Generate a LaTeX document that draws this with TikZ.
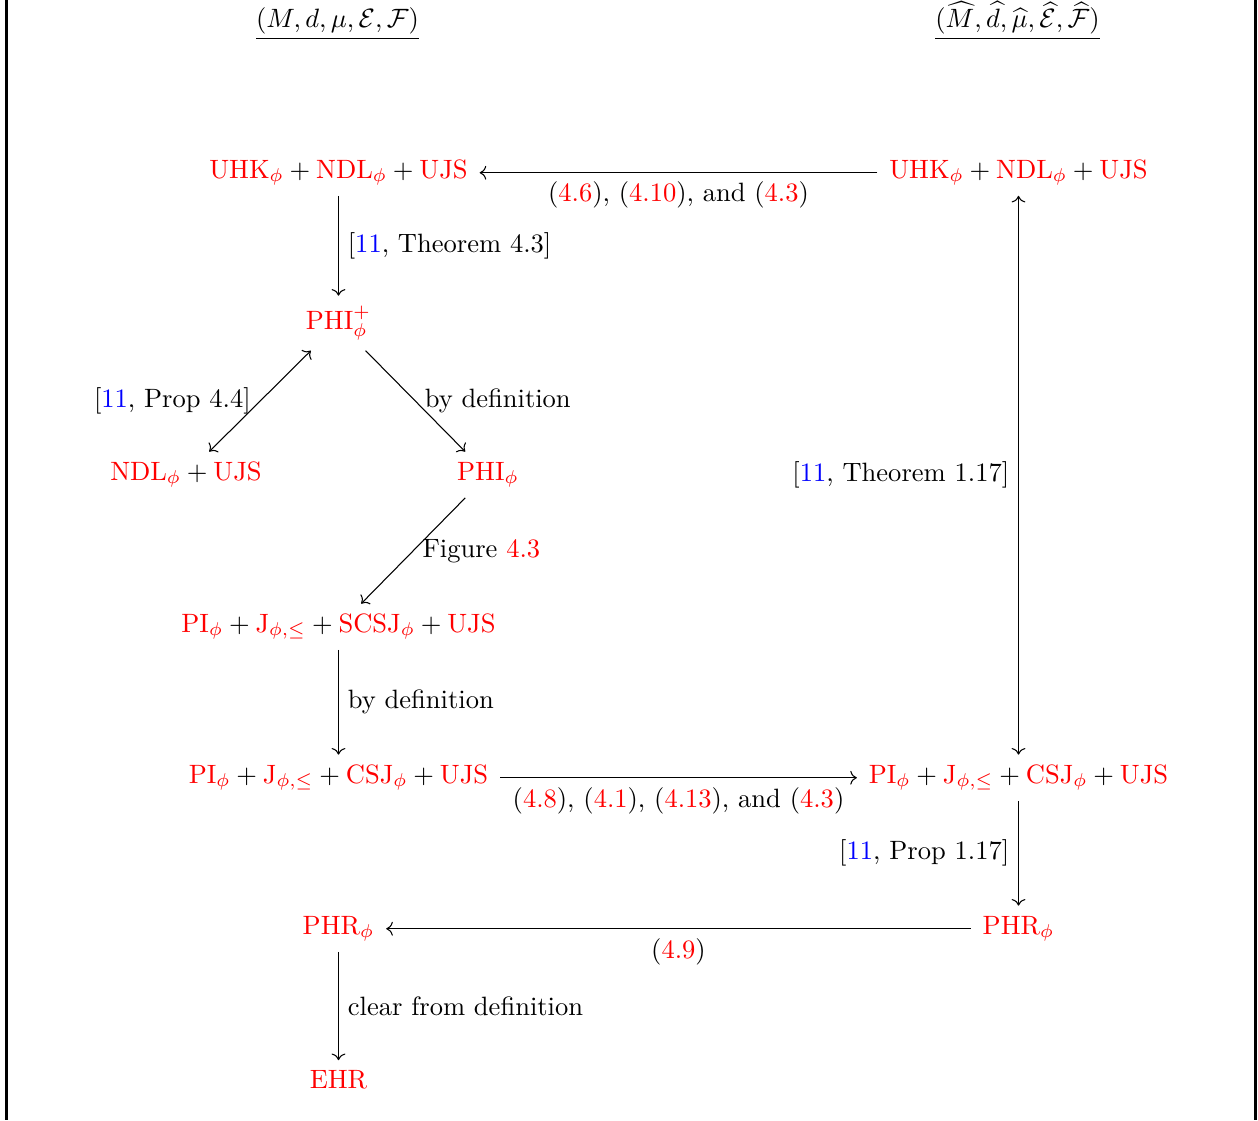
\documentclass[tikz,border=0pt]{standalone}
\usepackage{amsmath,amssymb}
\usetikzlibrary{arrows.meta}
\newcommand{\myred}[1]{\textcolor{red}{#1}}
\newcommand{\myblue}[1]{\textcolor{blue}{#1}}
\begin{document}
\begin{tikzpicture}[x=0.377pt, y=-0.377pt,
  cell/.style={inner xsep=1ex, inner ysep=0.85ex, anchor=base},
  arr/.style={-{Computer Modern Rightarrow}, line width=0.4pt},
  darr/.style={{Computer Modern Rightarrow}-{Computer Modern Rightarrow}, line width=0.4pt},
  lab/.style={inner sep=3.33pt},
  frame/.style={line width=1.13pt}]
\useasboundingbox (0,0) rectangle (1258,1120);
\coordinate (fl1) at (6.5,0); \coordinate (fl2) at (6.5,1120);
\coordinate (fr1) at (1255.5,0); \coordinate (fr2) at (1255.5,1120);
\draw[frame] (fl1) -- (fl2);
\draw[frame] (fr1) -- (fr2);

\node[cell] (t1) at (337.5,28) {$\underline{(M,d,\mu,\mathcal{E},\mathcal{F})}$};
\node[cell] (t2) at (1017.5,28) {$\underline{(\widehat{M},\widehat{d},\widehat{\mu},\widehat{\mathcal{E}},\widehat{\mathcal{F}})}$};

\node[cell] (A) at (338.5,178) {$\myred{\mathrm{UHK}_\phi}+\myred{\mathrm{NDL}_\phi}+\myred{\mathrm{UJS}}$};
\node[cell] (B) at (1018.5,178) {$\myred{\mathrm{UHK}_\phi}+\myred{\mathrm{NDL}_\phi}+\myred{\mathrm{UJS}}$};
\node[cell] (C) at (338.5,329) {$\myred{\mathrm{PHI}^+_\phi}$};
\node[cell] (D) at (186,480) {$\myred{\mathrm{NDL}_\phi}+\myred{\mathrm{UJS}}$};
\node[cell] (E) at (488,480) {$\myred{\mathrm{PHI}_\phi}$};
\node[cell] (F) at (338.5,632) {$\myred{\mathrm{PI}_\phi}+\myred{\mathrm{J}_{\phi,\le}}+\myred{\mathrm{SCSJ}_\phi}+\myred{\mathrm{UJS}}$};
\node[cell] (G) at (338.5,783) {$\myred{\mathrm{PI}_\phi}+\myred{\mathrm{J}_{\phi,\le}}+\myred{\mathrm{CSJ}_\phi}+\myred{\mathrm{UJS}}$};
\node[cell] (H) at (1018.5,783) {$\myred{\mathrm{PI}_\phi}+\myred{\mathrm{J}_{\phi,\le}}+\myred{\mathrm{CSJ}_\phi}+\myred{\mathrm{UJS}}$};
\node[cell] (J) at (338.5,934) {$\myred{\mathrm{PHR}_\phi}$};
\node[cell] (I) at (1018.5,934) {$\myred{\mathrm{PHR}_\phi}$};
\node[cell] (K) at (338.5,1088.5) {$\myred{\mathrm{EHR}}$};

\draw[arr] (B) -- node[lab,below]{(\myred{4.6}), (\myred{4.10}), and (\myred{4.3})} (A);
\draw[arr] (A) -- node[lab,right]{[\myblue{11}, Theorem 4.3]} (C);
\draw[darr] (D) -- node[lab,left]{[\myblue{11}, Prop 4.4]} (C);
\draw[arr] (C) -- node[lab,right]{by definition} (E);
\draw[arr] (E) -- node[lab,right]{Figure \myred{4.3}} (F);
\draw[arr] (F) -- node[lab,right]{by definition} (G);
\draw[arr] (G) -- node[lab,below]{(\myred{4.8}), (\myred{4.1}), (\myred{4.13}), and (\myred{4.3})} (H);
\draw[darr] (B) -- node[lab,left]{[\myblue{11}, Theorem 1.17]} (H);
\draw[arr] (H) -- node[lab,left]{[\myblue{11}, Prop 1.17]} (I);
\draw[arr] (I) -- node[lab,below]{(\myred{4.9})} (J);
\draw[arr] (J) -- node[lab,right]{clear from definition} (K);
\end{tikzpicture}
\end{document}
